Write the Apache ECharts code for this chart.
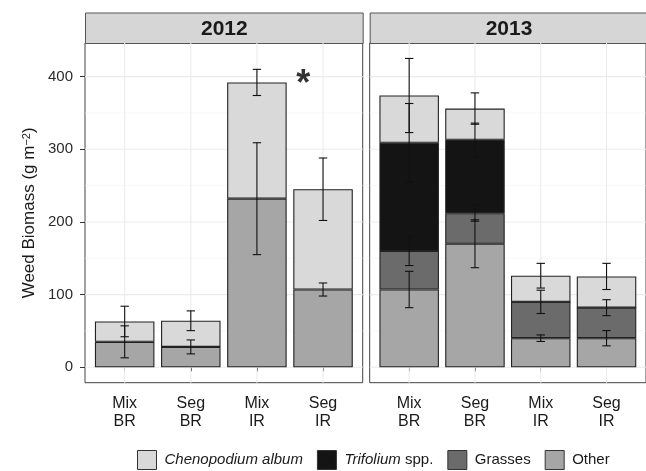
<!DOCTYPE html>
<html>
<head>
<meta charset="utf-8">
<script src="https://cdn.jsdelivr.net/npm/echarts@6/dist/echarts.min.js"></script>
<style>
    html, body { margin: 0; padding: 0; background: #fff; }
    #chart { width: 646px; height: 471px; }
</style>
</head>
<body>
<div id="chart"></div>
<script>
    // categories and tick labels
    const categories = ['Mix\nBR', 'Seg\nBR', 'Mix\nIR', 'Seg\nIR'];
    const xPos = [1, 2, 3, 4];
    const yTicks = [0, 100, 200, 300, 400];
    const yMinor = [50, 150, 250, 350];
    const years = ['2012', '2013'];
    const groups = ['Other', 'Grasses', 'Trifolium spp.', 'Chenopodium album'];

    // 2012 segment values (g m-2) and standard errors
    const other2012 = [35, 28, 232, 107];
    const grasses2012 = [0, 0, 0, 0];
    const trifolium2012 = [0, 0, 0, 0];
    const cheno2012 = [28, 36, 160, 138];
    const otherSe2012 = [22, 9.6, 77, 9];
    const grassesSe2012 = [0, 0, 0, 0];
    const trifoliumSe2012 = [0, 0, 0, 0];
    const chenoSe2012 = [21, 13.6, 18, 43];

    // 2013
    const other2013 = [107, 170, 40, 40];
    const grasses2013 = [53, 42, 50, 42];
    const trifolium2013 = [149, 101, 0, 0];
    const cheno2013 = [65, 43, 36, 43];
    const otherSe2013 = [25, 33, 4.5, 10.5];
    const grassesSe2013 = [20, 11, 16, 11];
    const trifoliumSe2013 = [54, 23, 0, 0];
    const chenoSe2013 = [51, 21.6, 17, 18];

    // significance mark
    const starPos = [3.7, 401];

    const colors = {
        'Chenopodium album': '#d9d9d9',
        'Trifolium spp.': '#141414',
        'Grasses': '#6b6b6b',
        'Other': '#a6a6a6'
    };

    const values = [
        [other2012, grasses2012, trifolium2012, cheno2012],
        [other2013, grasses2013, trifolium2013, cheno2013]
    ];
    const ses = [
        [otherSe2012, grassesSe2012, trifoliumSe2012, chenoSe2012],
        [otherSe2013, grassesSe2013, trifoliumSe2013, chenoSe2013]
    ];

    const font = 'Liberation Sans';
    const panelLeft = [85, 369.7];
    const panelW = 277.7;
    const panelTop = 43;
    const panelH = 339.7;
    const barW = panelW / 4.2 * 0.9;

    const chart = echarts.init(document.getElementById('chart'), null, {renderer: 'canvas'});

    let grids = [], xAxes = [], yAxes = [], series = [], graphics = [];

    years.forEach(function (yr, p) {
        grids.push({
            left: panelLeft[p], top: panelTop, width: panelW, height: panelH,
            show: true, backgroundColor: '#fff', borderColor: '#444', borderWidth: 1
        });
        xAxes.push({
            gridIndex: p, type: 'value', min: 0.4, max: 4.6,
            axisLine: {show: false},
            splitLine: {show: false},
            axisTick: {show: true, customValues: xPos, length: 4, lineStyle: {color: '#333'}},
            axisLabel: {
                customValues: xPos, margin: 12,
                formatter: function (v) { return categories[Math.round(v) - 1]; },
                fontFamily: font, fontSize: 16, lineHeight: 18, color: '#1a1a1a'
            }
        });
        yAxes.push({
            gridIndex: p, type: 'value', min: -21.25, max: 446.25,
            axisLine: {show: false},
            splitLine: {show: false},
            axisTick: {show: p === 0, customValues: yTicks, length: 5, lineStyle: {color: '#333'}},
            axisLabel: {
                show: p === 0, customValues: yTicks, margin: 12,
                fontFamily: font, fontSize: 15, color: '#2b2b2b'
            },
            name: p === 0 ? 'Weed Biomass (g m{sup|−2})' : '',
            nameLocation: 'middle', nameGap: 47,
            nameTextStyle: {
                fontFamily: font, fontSize: 17, color: '#1a1a1a',
                rich: {sup: {fontFamily: font, fontSize: 11, verticalAlign: 'top', color: '#1a1a1a'}}
            }
        });

        // grid lines
        series.push({
            type: 'custom', xAxisIndex: p, yAxisIndex: p, silent: true, z: 1,
            data: yTicks.map(v => [1, v, 1]).concat(yMinor.map(v => [1, v, 0])),
            renderItem: function (params, api) {
                const cs = params.coordSys;
                const y = api.coord([1, api.value(1)])[1];
                return {
                    type: 'line',
                    shape: {x1: cs.x, y1: y, x2: cs.x + cs.width, y2: y},
                    style: {stroke: api.value(2) ? '#ebebeb' : '#f3f3f3', lineWidth: api.value(2) ? 1.1 : 0.6}
                };
            }
        });
        series.push({
            type: 'custom', xAxisIndex: p, yAxisIndex: p, silent: true, z: 1,
            data: xPos.map(v => [v, 0]),
            renderItem: function (params, api) {
                const cs = params.coordSys;
                const x = api.coord([api.value(0), 0])[0];
                return {
                    type: 'line',
                    shape: {x1: x, y1: cs.y, x2: x, y2: cs.y + cs.height},
                    style: {stroke: '#ebebeb', lineWidth: 1.1}
                };
            }
        });

        // stacked bars: value column first so the stack runs on y; empty groups left out
        groups.forEach(function (g, k) {
            if (values[p][k].every(v => v === 0)) return;
            series.push({
                name: g, type: 'bar', xAxisIndex: p, yAxisIndex: p, stack: 'y' + yr,
                barWidth: barW, z: 2,
                encode: {x: 1, y: 0},
                itemStyle: {color: colors[g], borderColor: '#222', borderWidth: 1.1},
                data: xPos.map((x, i) => [values[p][k][i], x])
            });
        });

        // error bars at the cumulative height of each segment
        let ebData = [];
        xPos.forEach(function (x, i) {
            let cum = 0;
            groups.forEach(function (g, k) {
                const v = values[p][k][i];
                cum += v;
                if (v > 0) ebData.push([x, cum - ses[p][k][i], cum + ses[p][k][i]]);
            });
        });
        series.push({
            type: 'custom', xAxisIndex: p, yAxisIndex: p, silent: true, z: 5,
            data: ebData,
            renderItem: function (params, api) {
                const lo = api.coord([api.value(0), api.value(1)]);
                const hi = api.coord([api.value(0), api.value(2)]);
                const hw = 4.2;
                const st = {stroke: '#111', lineWidth: 1.1};
                return {
                    type: 'group',
                    children: [
                        {type: 'line', shape: {x1: lo[0], y1: lo[1], x2: hi[0], y2: hi[1]}, style: st},
                        {type: 'line', shape: {x1: lo[0] - hw, y1: lo[1], x2: lo[0] + hw, y2: lo[1]}, style: st},
                        {type: 'line', shape: {x1: hi[0] - hw, y1: hi[1], x2: hi[0] + hw, y2: hi[1]}, style: st}
                    ]
                };
            }
        });

        // facet strip
        graphics.push({
            type: 'group', left: panelLeft[p], top: 12.5,
            children: [
                {type: 'rect', shape: {x: 0, y: 0, width: panelW, height: 30.5},
                    style: {fill: '#d6d6d6', stroke: '#555', lineWidth: 1}},
                {type: 'text', x: panelW / 2, y: 16,
                    style: {text: yr, fill: '#1a1a1a', font: 'bold 21px "' + font + '"',
                        align: 'center', verticalAlign: 'middle'}}
            ]
        });
    });

    series.push({
        type: 'scatter', xAxisIndex: 0, yAxisIndex: 0, symbolSize: 0, silent: true, z: 6,
        data: [starPos],
        label: {show: true, position: 'inside', formatter: '*', offset: [0, 9],
            fontFamily: font, fontSize: 36, fontWeight: 'bold', color: '#000'}
    });

    chart.setOption({
        animation: false,
        backgroundColor: '#fff',
        grid: grids,
        xAxis: xAxes,
        yAxis: yAxes,
        graphic: graphics,
        legend: {
            data: ['Chenopodium album', 'Trifolium spp.', 'Grasses', 'Other'],
            left: 137, top: 450, padding: 0,
            icon: 'rect', itemWidth: 19, itemHeight: 19, itemGap: 14,
            itemStyle: {borderColor: '#333', borderWidth: 1},
            formatter: function (name) {
                if (name === 'Chenopodium album') return '{i|Chenopodium album}';
                if (name === 'Trifolium spp.') return '{i|Trifolium} spp.';
                return name;
            },
            textStyle: {
                fontFamily: font, fontSize: 15, color: '#1a1a1a', padding: [0, 0, 0, 3],
                rich: {i: {fontFamily: font, fontSize: 15, fontStyle: 'italic', color: '#1a1a1a'}}
            }
        },
        series: series
    });
</script>
</body>
</html>
